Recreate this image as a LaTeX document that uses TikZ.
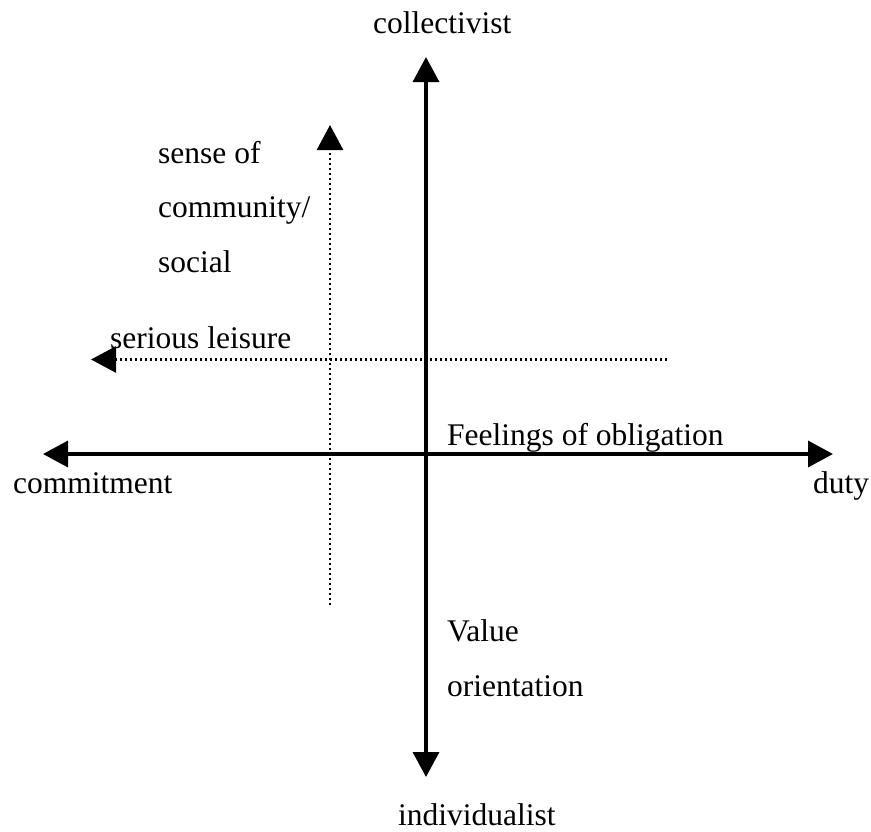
\documentclass[tikz,border=0pt]{standalone}
\usepackage{fontspec}
\setmainfont{Liberation Serif}
\usetikzlibrary{arrows.meta}
\begin{document}
\begin{tikzpicture}[x=1pt,y=-1pt,
  axis/.style={line width=3.5pt,-{Triangle[length=25pt,width=26pt]}},
  guide/.style={line width=2.6pt,dash pattern=on 2.4pt off 2.6pt,-{Triangle[length=25pt,width=26pt]}},
  lbl/.style={anchor=base west,inner sep=0pt,font=\fontsize{31.5}{38}\selectfont}]
\useasboundingbox[fill=white] (0,0) rectangle (871,831);

% main axes
\coordinate (top) at (426,57);
\coordinate (bottom) at (426,777);
\coordinate (left) at (43,454);
\coordinate (right) at (833,454);
\coordinate (centre) at (426,454);
\draw[axis] (centre) -- (top);
\draw[axis] (centre) -- (bottom);
\draw[axis] (centre) -- (left);
\draw[axis] (centre) -- (right);

% dotted guides
\coordinate (gtop) at (330,125);
\coordinate (gbot) at (330,605);
\coordinate (gright) at (667,359.5);
\coordinate (gleft) at (91,359.5);
\draw[guide] (gbot) -- (gtop);
\draw[guide] (gright) -- (gleft);

% labels
\node[lbl] (coll) at (373,33) {collectivist};
\node[lbl] (sense) at (158,163) {sense of};
\node[lbl] (comm) at (158,217) {community/};
\node[lbl] (soc) at (158,272) {social};
\node[lbl] (serious) at (110,348) {serious leisure};
\node[lbl] (feel) at (447,445) {Feelings of obligation};
\node[lbl] (commit) at (13,493) {commitment};
\node[lbl] (duty) at (813,493) {duty};
\node[lbl] (value) at (447,641) {Value};
\node[lbl] (orient) at (447,696) {orientation};
\node[lbl] (indiv) at (398,825) {individualist};
\end{tikzpicture}
\end{document}
